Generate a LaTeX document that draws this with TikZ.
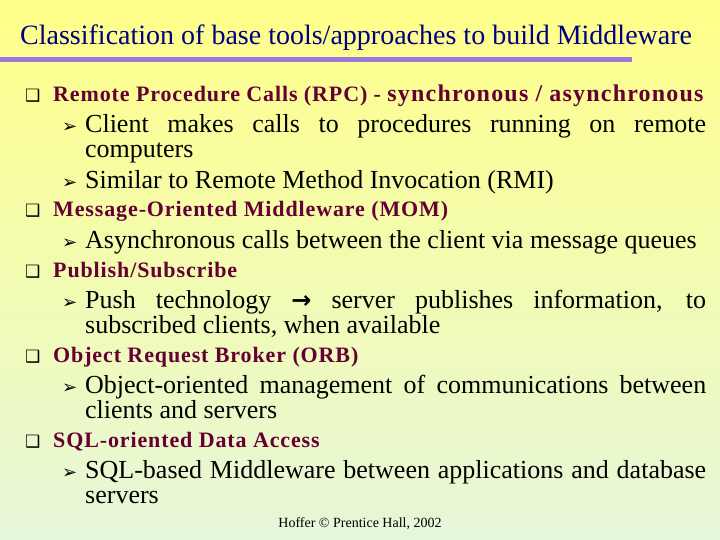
\documentclass[tikz,border=0pt]{standalone}
\usepackage{fontspec}
\setmainfont{Liberation Serif}
\newfontfamily\symfont{DejaVu Sans}
\usepackage{tikz}
\definecolor{bgtop}{RGB}{255,255,136}
\definecolor{bgbot}{RGB}{230,247,218}
\definecolor{titleblue}{RGB}{0,0,128}
\definecolor{barpurple}{RGB}{153,119,221}
\definecolor{headred}{RGB}{102,0,51}
\newcommand{\nohyph}{\hyphenpenalty=10000\relax\exhyphenpenalty=10000\relax}
\tikzstyle{title} = [anchor=base west, inner sep=0pt, font=\fontsize{28}{30}\selectfont, text=titleblue]
\tikzstyle{head} = [anchor=base west, inner sep=0pt,
    font=\bfseries\fontsize{22}{24}\selectfont\addfontfeature{LetterSpace=4}, text=headred]
\tikzstyle{item} = [anchor=base west, inner sep=0pt, text width=621pt, align=justify,
    font=\fontsize{26}{25}\selectfont\nohyph]
\tikzstyle{sqbullet} = [anchor=base west, inner sep=0pt, font=\symfont\fontsize{17}{17}\selectfont]
\tikzstyle{arbullet} = [anchor=base west, inner sep=0pt, font=\symfont\fontsize{18}{18}\selectfont]
\newcommand{\sqb}{\char"2751}
\newcommand{\arb}{\char"27A2}

\begin{document}
\begin{tikzpicture}[x=1pt,y=-1pt]
\useasboundingbox (0,0) rectangle (720,540);
\shade [top color=bgtop, bottom color=bgbot] (0,0) rectangle (720,540);

% title and bar
\node (title) [title] at (20,45) {Classification of base tools/approaches to build Middleware};
\fill [barpurple] (0,57.5) rectangle (632,62.5);

% RPC
\node (b1) [sqbullet] at (25,102) {\sqb};
\node (h1) [head] at (53,102) {Remote Procedure Calls (RPC) - {\fontsize{24}{24}\selectfont\addfontfeature{LetterSpace=5}synchronous / asynchronous}};
\node (a11) [arbullet] at (62,133) {\arb};
\node (t11) [item] at (85,133) {Client makes calls to procedures running on remote computers};
\node (a12) [arbullet] at (62,189) {\arb};
\node (t12) [item] at (85,189) {Similar to Remote Method Invocation (RMI)};

% MOM
\node (b2) [sqbullet] at (25,217) {\sqb};
\node (h2) [head] at (53,217) {Message-Oriented Middleware (MOM)};
\node (a21) [arbullet] at (62,248) {\arb};
\node (t21) [item] at (85,248) {Asynchronous calls between the client via message queues};

% publish/subscribe
\node (b3) [sqbullet] at (25,277) {\sqb};
\node (h3) [head] at (53,277) {Publish/Subscribe};
\node (a31) [arbullet] at (62,308) {\arb};
\node (t31) [item] at (85,308) {Push technology {\symfont\bfseries\fontsize{24}{24}\selectfont →} server publishes information, to subscribed clients, when available};

% ORB
\node (b4) [sqbullet] at (25,362) {\sqb};
\node (h4) [head] at (53,362) {Object Request Broker (ORB)};
\node (a41) [arbullet] at (62,393) {\arb};
\node (t41) [item] at (85,393) {Object-oriented management of communications between clients and servers};

% SQL
\node (b5) [sqbullet] at (25,447) {\sqb};
\node (h5) [head] at (53,447) {SQL-oriented Data Access};
\node (a51) [arbullet] at (62,478) {\arb};
\node (t51) [item] at (85,478) {SQL-based Middleware between applications and database servers};

\node (foot) [anchor=base, inner sep=0pt, font=\fontsize{14}{14}\selectfont] at (360,527) {Hoffer © Prentice Hall, 2002};
\end{tikzpicture}
\end{document}
